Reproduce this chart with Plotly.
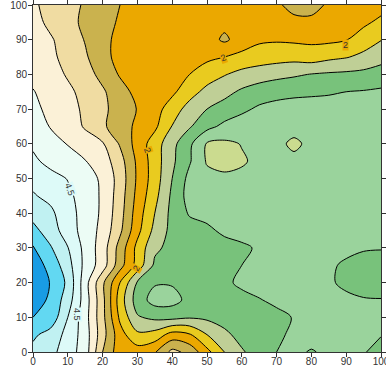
import plotly.graph_objects as go

# grid coordinates
x_vals = [0, 5, 10, 15, 20, 25, 30, 35, 40, 45, 50, 55, 60, 65, 70, 75, 80, 85, 90, 95, 100]
y_vals = [0, 5, 10, 15, 20, 25, 30, 35, 40, 45, 50, 55, 60, 65, 70, 75, 80, 85, 90, 95, 100]

# values read row by row (y = 0 ... 100), columns x = 0 ... 100
z_y000 = [5.35, 5.15, 4.75, 4.25, 3.0, 2.2, 2.25, 2.45, 3.15, 2.85, 2.15, 1.5, 1.05, 0.8, 0.5, 0.45, 0.52, 0.45, 0.43, 0.47, 0.65]
z_y005 = [5.6, 5.3, 4.85, 4.25, 3.2, 2.2, 1.6, 1.7, 2.2, 2.05, 1.5, 1.1, 0.85, 0.7, 0.55, 0.45, 0.4, 0.4, 0.4, 0.42, 0.48]
z_y010 = [6.0, 5.85, 5.0, 4.2, 3.15, 1.9, 1.05, 0.88, 0.85, 0.95, 0.9, 0.82, 0.75, 0.68, 0.6, 0.48, 0.38, 0.33, 0.32, 0.33, 0.35]
z_y015 = [6.3, 5.9, 5.25, 4.25, 3.15, 1.75, 0.75, 0.3, 0.32, 0.65, 0.75, 0.75, 0.65, 0.52, 0.42, 0.35, 0.33, 0.35, 0.42, 0.47, 0.48]
z_y020 = [6.35, 5.98, 5.4, 4.2, 3.1, 2.0, 0.95, 0.55, 0.55, 0.7, 0.7, 0.6, 0.4, 0.35, 0.35, 0.35, 0.38, 0.45, 0.58, 0.68, 0.72]
z_y025 = [6.25, 5.85, 5.2, 4.35, 3.75, 2.7, 1.8, 0.9, 0.75, 0.7, 0.65, 0.6, 0.5, 0.4, 0.35, 0.35, 0.38, 0.45, 0.55, 0.62, 0.65]
z_y030 = [6.05, 5.55, 5.02, 4.35, 3.75, 2.8, 1.85, 1.1, 0.85, 0.75, 0.7, 0.65, 0.57, 0.45, 0.35, 0.3, 0.3, 0.35, 0.42, 0.47, 0.48]
z_y035 = [5.65, 5.25, 4.75, 4.3, 3.85, 3.1, 2.15, 1.35, 0.85, 0.7, 0.58, 0.42, 0.35, 0.3, 0.27, 0.25, 0.25, 0.27, 0.3, 0.32, 0.35]
z_y040 = [5.33, 5.12, 4.65, 4.35, 3.9, 3.2, 2.25, 1.5, 0.85, 0.45, 0.38, 0.3, 0.28, 0.27, 0.27, 0.27, 0.27, 0.27, 0.28, 0.3, 0.32]
z_y045 = [5.05, 4.85, 4.6, 4.3, 3.92, 3.25, 2.35, 1.65, 0.9, 0.3, 0.22, 0.18, 0.2, 0.22, 0.25, 0.25, 0.25, 0.25, 0.25, 0.27, 0.3]
z_y050 = [4.85, 4.67, 4.48, 4.25, 3.9, 3.3, 2.42, 1.75, 1.0, 0.35, 0.15, 0.06, 0.1, 0.15, 0.2, 0.2, 0.2, 0.22, 0.25, 0.27, 0.3]
z_y055 = [4.6, 4.35, 4.15, 4.02, 3.75, 3.2, 2.4, 1.75, 1.1, 0.55, -0.05, -0.1, -0.05, 0.1, 0.15, 0.15, 0.18, 0.2, 0.22, 0.25, 0.28]
z_y060 = [4.42, 4.22, 3.98, 3.72, 3.55, 2.95, 2.3, 1.75, 1.15, 0.6, -0.05, -0.1, 0.02, 0.15, 0.15, -0.12, 0.15, 0.2, 0.25, 0.28, 0.3]
z_y065 = [4.3, 3.97, 3.75, 3.45, 3.08, 2.73, 2.4, 2.1, 1.48, 1.05, 0.65, 0.38, 0.25, 0.22, 0.22, 0.22, 0.25, 0.28, 0.3, 0.3, 0.3]
z_y070 = [4.1, 3.9, 3.7, 3.4, 3.1, 2.8, 2.48, 2.2, 1.75, 1.3, 1.0, 0.8, 0.6, 0.42, 0.35, 0.32, 0.3, 0.3, 0.3, 0.3, 0.3]
z_y075 = [4.02, 3.85, 3.6, 3.35, 3.07, 2.7, 2.35, 2.25, 2.1, 1.7, 1.35, 1.15, 0.92, 0.75, 0.65, 0.6, 0.58, 0.55, 0.5, 0.47, 0.42]
z_y080 = [3.9, 3.7, 3.45, 3.2, 2.85, 2.45, 2.35, 2.25, 2.15, 2.0, 1.75, 1.53, 1.35, 1.25, 1.15, 1.07, 0.98, 0.93, 0.9, 0.86, 0.8]
z_y085 = [3.85, 3.6, 3.35, 3.07, 2.65, 2.35, 2.25, 2.2, 2.2, 2.15, 2.1, 2.0, 1.85, 1.75, 1.7, 1.67, 1.75, 1.62, 1.53, 1.38, 1.16]
z_y090 = [3.75, 3.55, 3.3, 2.97, 2.6, 2.4, 2.3, 2.25, 2.25, 2.25, 2.3, 2.58, 2.3, 2.08, 2.05, 2.08, 2.1, 2.1, 2.02, 1.75, 1.52]
z_y095 = [3.65, 3.4, 3.15, 2.9, 2.65, 2.45, 2.35, 2.3, 2.28, 2.28, 2.3, 2.38, 2.35, 2.3, 2.3, 2.42, 2.42, 2.3, 2.2, 2.1, 1.88]
z_y100 = [3.6, 3.3, 3.15, 2.95, 2.75, 2.5, 2.4, 2.35, 2.3, 2.3, 2.3, 2.35, 2.35, 2.35, 2.45, 2.6, 2.62, 2.45, 2.35, 2.3, 2.2]

z_rows = [z_y000, z_y005, z_y010, z_y015, z_y020, z_y025, z_y030, z_y035, z_y040,
          z_y045, z_y050, z_y055, z_y060, z_y065, z_y070, z_y075, z_y080, z_y085,
          z_y090, z_y095, z_y100]

# contour levels
level_start = 0.0
level_end = 6.0
level_step = 0.5

# one colour per band, lowest band first (below 0 ... above 6)
band_colors = ["#cbdb8f", "#9ad39c", "#78c27b", "#bfcf96", "#e9cb1f", "#eba800", "#cab24e",
               "#f0dca2", "#fbf1d7", "#ecfcf5", "#ddfaf8", "#c0f1f2", "#62d8f2", "#199ce4"]

# contour label texts and placements
label_texts = ["2", "2", "2", "2", "4.5", "4.5"]
label_x = [89.7, 54.6, 32.8, 29.8, 10.6, 12.6]
label_y = [88.5, 84.7, 58.2, 24.1, 46.7, 10.7]
label_angle = [0, -20, 70, -60, 70, 90]
label_bg = ["#eba800", "#eba800", "#eba800", "#eba800", "#ddfaf8", "#ddfaf8"]

n_bands = len(band_colors)
colorscale = []
for k, c in enumerate(band_colors):
    s0 = max(0.0, (k - 0.5) / (n_bands - 1))
    s1 = min(1.0, (k + 0.5) / (n_bands - 1))
    colorscale.append([s0, c])
    colorscale.append([s1, c])

fig = go.Figure()
fig.add_trace(go.Contour(
    x=x_vals, y=y_vals, z=z_rows,
    autocontour=False,
    contours=dict(start=level_start, end=level_end, size=level_step, coloring="fill"),
    colorscale=colorscale,
    showscale=False,
    line=dict(color="black", width=1, smoothing=0.9),
    hoverinfo="skip",
))

for t, lx, ly, ang, bg in zip(label_texts, label_x, label_y, label_angle, label_bg):
    fig.add_annotation(x=lx, y=ly, text=t, showarrow=False, textangle=ang,
                       font=dict(size=9, color="#333333", family="Liberation Sans, Arial"),
                       bgcolor=bg, borderpad=0)

axis_common = dict(range=[0, 100], dtick=10, ticks="outside", ticklen=4, tickwidth=1,
                   tickcolor="#333333", showline=True, linecolor="#333333", linewidth=1,
                   mirror="ticks", showgrid=False, zeroline=False, automargin=False,
                   ticklabeloverflow="allow",
                   tickfont=dict(size=10, color="#333333", family="Liberation Sans, Arial"))

fig.update_layout(
    width=386, height=369,
    margin=dict(l=33, r=5, t=5, b=17, autoexpand=False),
    paper_bgcolor="white", plot_bgcolor="white",
    xaxis=dict(axis_common, ticklabelstandoff=-4),
    yaxis=dict(axis_common, ticklabelstandoff=-1),
    showlegend=False,
)

fig.write_html("out.html",
               config={"displayModeBar": False, "staticPlot": True},
               post_script="document.body.style.margin='0';document.body.style.overflow='hidden';")
